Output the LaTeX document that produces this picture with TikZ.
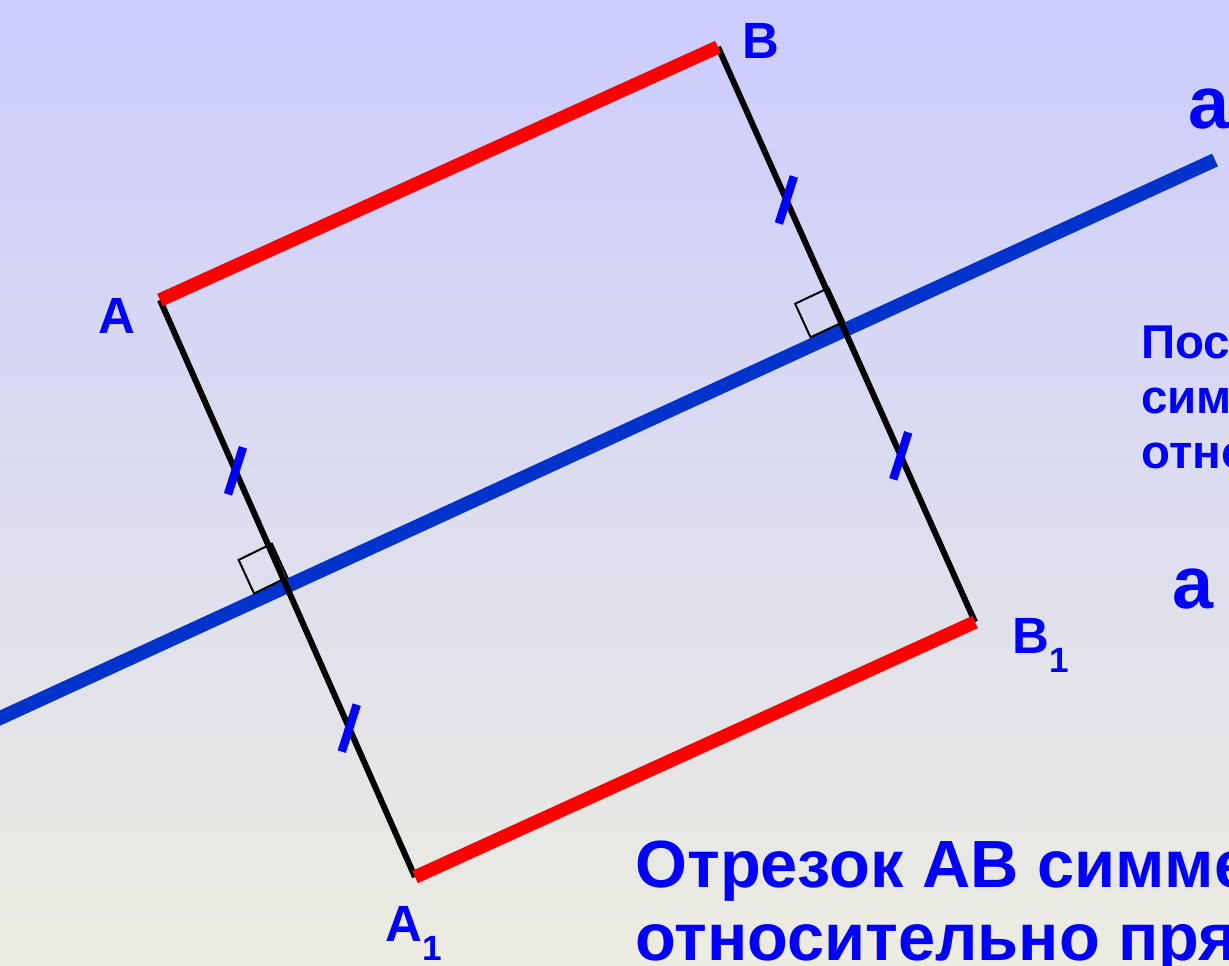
\documentclass[tikz,border=0pt]{standalone}
\usepackage{fontspec}
\setmainfont{Liberation Sans}
\usetikzlibrary{calc}

\definecolor{lineblue}{RGB}{0,51,204}
\definecolor{txtblue}{RGB}{0,0,255}
\definecolor{bgtop}{RGB}{204,204,255}
\definecolor{bgbot}{RGB}{236,236,224}

\begin{document}
\begin{tikzpicture}[x=0.02cm, y=-0.02cm,
    lbl/.style={text=txtblue, inner sep=0pt, anchor=base west,
        font=\bfseries\fontsize{29}{30}\selectfont},
    redseg/.style={red, line width=0.27cm},
    blackseg/.style={black, line width=0.12cm},
    axisline/.style={lineblue, line width=0.28cm},
    tickmark/.style={txtblue, line width=0.17cm},
    rightangle/.style={black, line width=0.04cm}]
    % Nền chuyển màu
    \useasboundingbox (0,0) rectangle (1229,965);
    \clip (0,0) rectangle (1229,965);
    \shade[top color=bgtop, bottom color=bgbot] (0,0) rectangle (1229,965);

    % Các điểm
    \coordinate (A) at (160,300);
    \coordinate (B) at (718,47);
    \coordinate (A1) at (415,877);
    \coordinate (B1) at (975,622);
    \coordinate (aL) at (-10,722.6);
    \coordinate (aR) at (1215,160);
    \coordinate (HA) at ($(aL)!(A)!(aR)$);
    \coordinate (HB) at ($(aL)!(B)!(aR)$);

    % Đường thẳng a
    \draw[axisline] (aL) -- (aR);

    % Ký hiệu góc vuông
    \foreach \h/\p in {HA/A, HB/B} {
        \coordinate (q0) at ($(\h)!0.16cm!(\p)$);
        \coordinate (q1) at ($(\h)!0.90cm!(\p)$);
        \coordinate (q3) at ($(q0)!0.74cm!(aL)$);
        \draw[rightangle] (q0) -- (q1) -- ($(q1)+(q3)-(q0)$) -- (q3) -- cycle;
    }

    % Đoạn vuông góc và hai đoạn đối xứng
    \draw[blackseg] (A) -- (A1);
    \draw[blackseg] (B) -- (B1);
    \draw[redseg] (A) -- (B);
    \draw[redseg] (A1) -- (B1);

    % Dấu đoạn bằng nhau
    \foreach \p/\q/\t in {A/A1/0.296, A/A1/0.742, B/B1/0.266, B/B1/0.711}
        \draw[tickmark] ($(\p)!\t!(\q)+(-7.5,23.5)$) -- ($(\p)!\t!(\q)+(7.5,-23.5)$);

    % Nhãn
    \node[lbl] (labA) at (98,333) {A};
    \node[lbl] (labB) at (742,58) {B};
    \node[lbl] (labA1) at (385,941) {A\raisebox{-11pt}{\fontsize{20}{20}\selectfont 1}};
    \node[lbl] (labB1) at (1012,653) {B\raisebox{-11pt}{\fontsize{20}{20}\selectfont 1}};
    \node[lbl, font=\bfseries\fontsize{42}{42}\selectfont] (labaTop) at (1188,128) {a};
    \node[lbl, font=\bfseries\fontsize{42}{42}\selectfont] (labaMid) at (1172,608) {a};

    % Chữ bên phải
    \node[lbl, font=\bfseries\fontsize{27}{27}\selectfont] (txt1) at (1141,358) {Пост};
    \node[lbl, font=\bfseries\fontsize{27}{27}\selectfont] (txt2) at (1141,413) {сим};
    \node[lbl, font=\bfseries\fontsize{27}{27}\selectfont] (txt3) at (1141,468) {отно};

    % Chữ phía dưới
    \node[lbl, font=\bfseries\fontsize{38}{38}\selectfont] (bot1) at (635,887) {Отрезок АВ симме};
    \node[lbl, font=\bfseries\fontsize{38}{38}\selectfont] (bot2) at (635,960) {относительно пря};
\end{tikzpicture}
\end{document}
